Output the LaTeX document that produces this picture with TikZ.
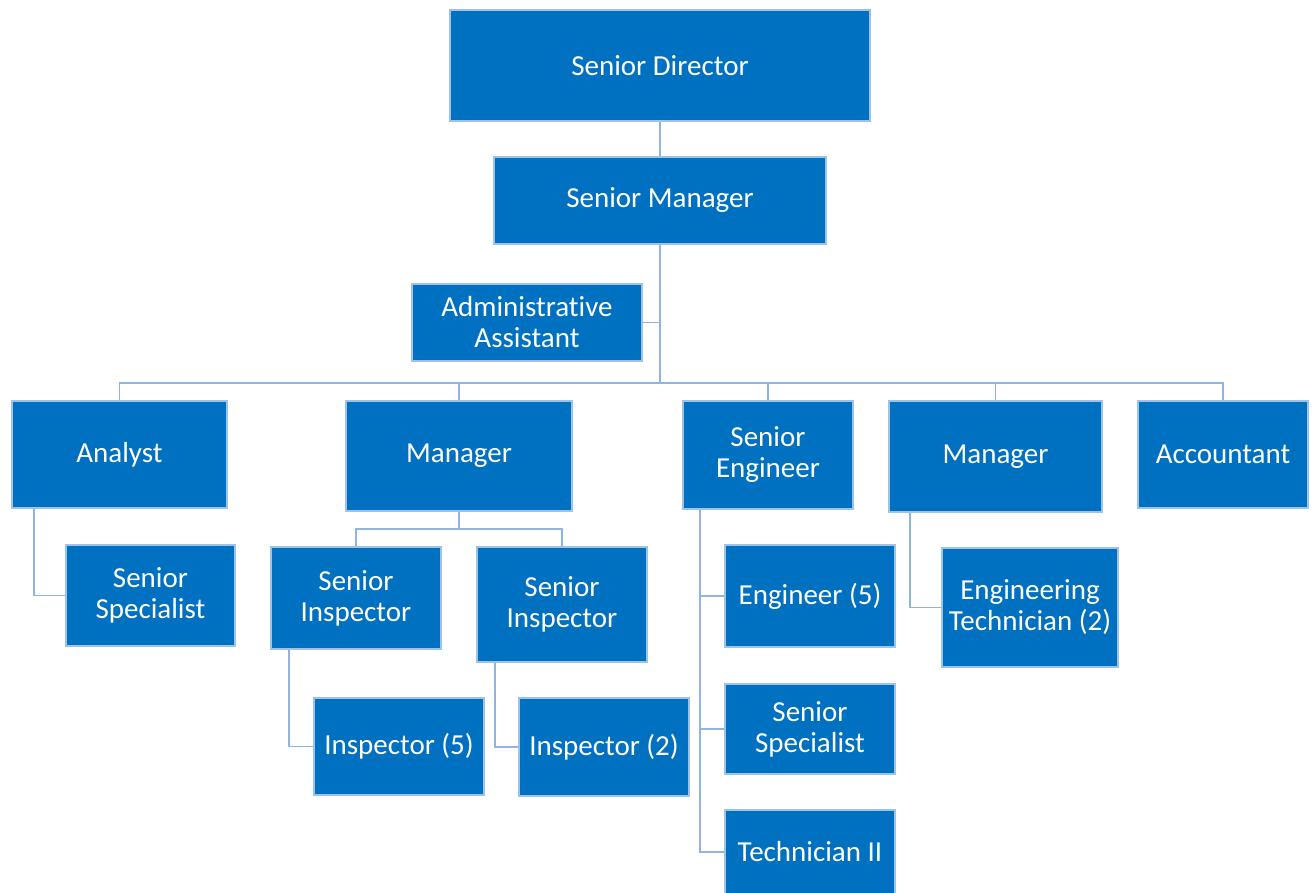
\documentclass[tikz,border=0pt]{standalone}
\usepackage{fontspec}
\setmainfont[RawFeature=-liga]{Carlito}
\definecolor{boxfill}{HTML}{0070C0}
\definecolor{boxedge}{HTML}{9DC3E6}
\definecolor{linkline}{HTML}{8FB4E3}
\tikzset{
  post/.style={draw=boxedge, line width=1.5pt, fill=boxfill, text=white,
    inner sep=0pt, align=center, font=\fontsize{29}{31}\selectfont},
  link/.style={draw=linkline, line width=1.5pt}
}
\begin{document}
\begin{tikzpicture}[x=1pt, y=-1pt]
     \useasboundingbox (0,0) rectangle (1312,892);
     % top of the chart
     \node[post, minimum width=420, minimum height=111] (SD) at (660,65.5) {Senior Director};
     \node[post, minimum width=332, minimum height=87] (SM) at (660,200.5) {Senior Manager};
     \node[post, minimum width=230, minimum height=77] (AA) at (527,322.5) {Administrative\\Assistant};
     % second level
     \node[post, minimum width=215, minimum height=107] (AN) at (119.5,454.5) {Analyst};
     \node[post, minimum width=226, minimum height=110] (MA) at (459,456) {Manager};
     \node[post, minimum width=170, minimum height=108] (SE) at (768,455) {Senior\\Engineer};
     \node[post, minimum width=213, minimum height=111] (MB) at (995.5,456.5) {Manager};
     \node[post, minimum width=170, minimum height=107] (AC) at (1223,454.5) {Accountant};
     % third level
     \node[post, minimum width=169, minimum height=101] (SS) at (150.5,595.5) {Senior\\Specialist};
     \node[post, minimum width=170, minimum height=102] (SIa) at (356,598) {Senior\\Inspector};
     \node[post, minimum width=170, minimum height=115] (SIb) at (562,604.5) {Senior\\Inspector};
     \node[post, minimum width=170, minimum height=97] (INa) at (399,746.5) {Inspector (5)};
     \node[post, minimum width=170, minimum height=98] (INb) at (604,747) {Inspector (2)};
     \node[post, minimum width=170, minimum height=102] (EN) at (810,596) {Engineer (5)};
     \node[post, minimum width=170, minimum height=90] (SP) at (810,729) {Senior\\Specialist};
     \node[post, minimum width=170, minimum height=84] (TE) at (810,852) {Technician II};
     \node[post, minimum width=176, minimum height=119] (ET) at (1030,607.5) {Engineering\\Technician (2)};
     % bus lines
     \coordinate (bus) at (660,383);
     \coordinate (busA) at (459,529);
     \draw[link] (SD) -- (SM);
     \draw[link] (SM.south) -- (bus);
     \draw[link] (AA.east) -- (AA.east -| SM.south);
     \draw[link] (AN.north) |- (bus) -| (AC.north);
     \draw[link] (MA.north) -- (MA.north |- bus);
     \draw[link] (SE.north) -- (SE.north |- bus);
     \draw[link] (MB.north) -- (MB.north |- bus);
     \draw[link] (MA.south) -- (busA);
     \draw[link] (SIa.north) |- (busA) -| (SIb.north);
     % side branches
     \draw[link] ([xshift=-85.5]AN.south) |- (SS.west);
     \draw[link] ([xshift=-67]SIa.south) |- (INa.west);
     \draw[link] ([xshift=-67]SIb.south) |- (INb.west);
     \draw[link] ([xshift=-68]SE.south) |- (TE.west);
     \draw[link] ([xshift=-68]SE.south) |- (EN.west);
     \draw[link] ([xshift=-68]SE.south) |- (SP.west);
     \draw[link] ([xshift=-85.5]MB.south) |- (ET.west);
 \end{tikzpicture}
\end{document}
